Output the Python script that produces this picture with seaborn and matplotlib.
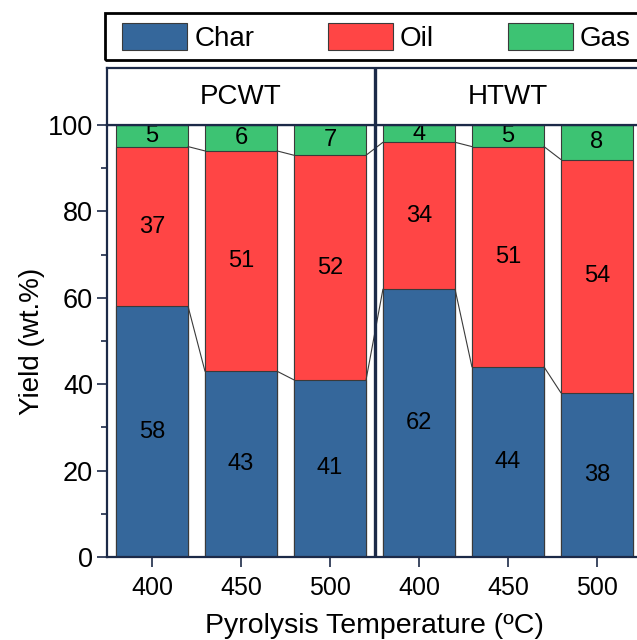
import matplotlib
matplotlib.use("Agg")
import matplotlib.pyplot as plt
from matplotlib.patches import Rectangle, Patch
from matplotlib.ticker import MultipleLocator
import seaborn as sns
import pandas as pd
import numpy as np

# Product yields (wt.%) at each pyrolysis temperature, PCWT then HTWT
groups = ["PCWT", "HTWT"]
temperatures = ["400", "450", "500"]
char = [58, 43, 41, 62, 44, 38]
oil = [37, 51, 52, 34, 51, 54]
gas = [5, 6, 7, 4, 5, 8]

CHAR_C = "#35679B"
OIL_C = "#FF4545"
GAS_C = "#3DC373"
EDGE_C = "#3a3a3a"
FRAME_C = "#1c2a48"

sns.set_theme(style="ticks")
plt.rcParams["font.family"] = ["Liberation Sans", "DejaVu Sans"]
plt.rcParams["axes.unicode_minus"] = False
for key in ["text.color", "axes.labelcolor", "xtick.labelcolor", "ytick.labelcolor"]:
    plt.rcParams[key] = "black"

df = pd.DataFrame({
    "slot": np.arange(len(char)),
    "char": char,
    "oil": oil,
    "gas": gas,
})
df["char_oil"] = df["char"] + df["oil"]
df["total"] = df["char_oil"] + df["gas"]

W, H = 637, 640
fig = plt.figure(figsize=(W / 100, H / 100), dpi=100)

left_px, right_px = 107, 642
top_px, bottom_px = 125, 557
ax = fig.add_axes([left_px / W, 1 - bottom_px / H,
                   (right_px - left_px) / W, (bottom_px - top_px) / H])

bar_w = 0.81
bar_kw = dict(width=bar_w, saturation=1, edgecolor=EDGE_C, linewidth=0.8, ax=ax)
sns.barplot(data=df, x="slot", y="total", color=GAS_C, **bar_kw)
sns.barplot(data=df, x="slot", y="char_oil", color=OIL_C, **bar_kw)
sns.barplot(data=df, x="slot", y="char", color=CHAR_C, **bar_kw)

# connectors between the layer boundaries of neighbouring bars
for col in ["char", "char_oil"]:
    vals = df[col].to_numpy()
    for i in range(len(vals) - 1):
        ax.plot([i + bar_w / 2, i + 1 - bar_w / 2], [vals[i], vals[i + 1]],
                color=EDGE_C, lw=0.8, zorder=3)

# segment value labels
lab_kw = dict(ha="center", va="center", fontsize=17, color="black")
for i, row in df.iterrows():
    ax.text(i, row["char"] / 2, f"{row['char']}", **lab_kw)
    ax.text(i, row["char"] + row["oil"] / 2, f"{row['oil']}", **lab_kw)
    ax.text(i, row["char_oil"] + row["gas"] / 2, f"{row['gas']}", **lab_kw)

n = len(char)
ax.set_xlim(-0.506, n - 1 + 0.506)
ax.set_ylim(0, 100)
ax.set_xticks(np.arange(n))
ax.set_xticklabels(temperatures * len(groups))
ax.yaxis.set_major_locator(MultipleLocator(20))
ax.yaxis.set_minor_locator(MultipleLocator(10))
ax.tick_params(axis="both", which="major", length=7, width=1.2,
               color=FRAME_C, direction="out")
ax.tick_params(axis="x", labelsize=18, pad=7)
ax.tick_params(axis="y", labelsize=19.5, pad=3)
ax.tick_params(axis="y", which="minor", length=4, width=1.2, color=FRAME_C)
ax.set_xlabel("Pyrolysis Temperature (ºC)", fontsize=20.5, labelpad=9)
ax.set_ylabel("Yield (wt.%)", fontsize=20, labelpad=2)
for side, sp in ax.spines.items():
    sp.set_visible(side in ("left", "bottom", "top"))
    sp.set_color(FRAME_C)
    sp.set_linewidth(1.6)
ax.axvline(n / len(groups) - 0.5, color=FRAME_C, lw=2.4, zorder=5)

# panel header strip
strip = fig.add_axes([left_px / W, 1 - top_px / H,
                      (right_px - left_px) / W, (top_px - 68) / H])
strip.set_xlim(ax.get_xlim())
strip.set_ylim(0, 1)
strip.set_xticks([])
strip.set_yticks([])
for sp in strip.spines.values():
    sp.set_color(FRAME_C)
    sp.set_linewidth(1.6)
strip.axvline(n / len(groups) - 0.5, color=FRAME_C, lw=2.4)
per = n // len(groups)
for g, name in enumerate(groups):
    strip.text(g * per + (per - 1) / 2, 0.5, name, ha="center", va="center",
               fontsize=20)

# legend in a framed box across the top
fig.patches.append(Rectangle((105 / W, 1 - 60 / H), (660 - 105) / W, 47 / H,
                             transform=fig.transFigure, fill=False,
                             edgecolor="black", linewidth=2.0))
handles = [Patch(facecolor=CHAR_C, edgecolor=EDGE_C, linewidth=0.8),
           Patch(facecolor=OIL_C, edgecolor=EDGE_C, linewidth=0.8),
           Patch(facecolor=GAS_C, edgecolor=EDGE_C, linewidth=0.8)]
fig.legend(handles, ["Char", "Oil", "Gas"], loc="center left",
           bbox_to_anchor=(122 / W, 1 - 37.5 / H), ncol=3, frameon=False,
           fontsize=20, handlelength=2.35, handleheight=1.1, handletextpad=0.25,
           columnspacing=2.65, borderpad=0.0, borderaxespad=0.0)

fig.savefig("out.png", dpi=100)
